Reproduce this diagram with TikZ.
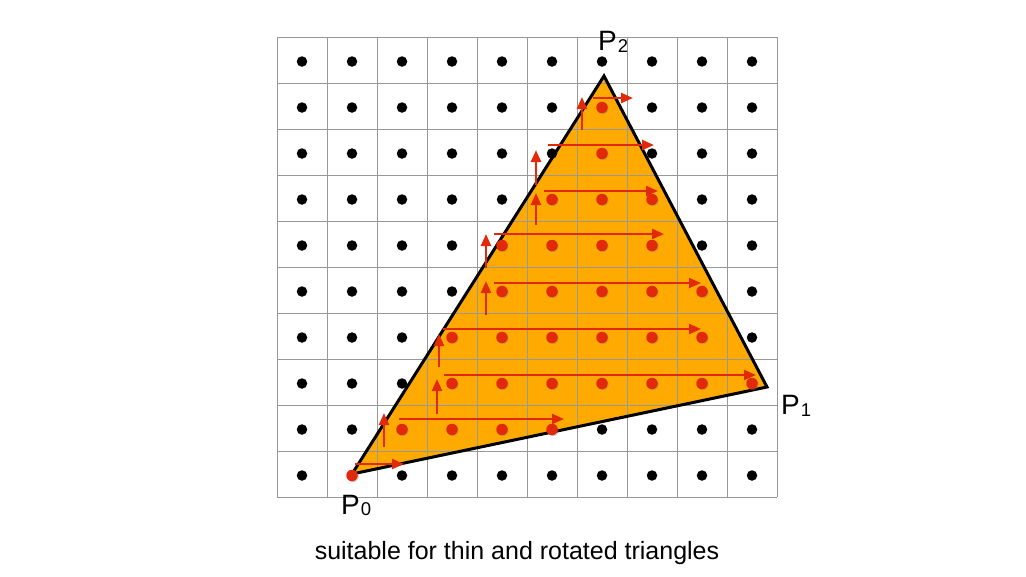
\documentclass[tikz,border=0pt]{standalone}
\usepackage{fontspec}
\setmainfont{Liberation Sans}
\usetikzlibrary{arrows.meta,shadows}
\definecolor{tri}{RGB}{255,170,0}
\definecolor{rast}{RGB}{226,42,10}
\definecolor{gridc}{RGB}{152,152,152}
\newcommand\plab[2]{P\kern1pt\raisebox{-1.5pt}{\fontsize{18.5}{18.5}\selectfont #2}}
\begin{document}
\begin{tikzpicture}[x=1pt,y=-1pt,
  gridline/.style={draw=gridc,line width=1pt},
  bdot/.style={circle,fill=black,inner sep=0pt,minimum size=10.5pt},
  rdot/.style={circle,fill=rast,inner sep=0pt,minimum size=11.5pt,
    drop shadow={shadow xshift=1pt,shadow yshift=-1pt,opacity=0.35}},
  scan/.style={draw=rast,line width=2.3pt,-{Triangle[length=12pt,width=10pt]}},
  triedge/.style={draw=black,line width=3pt,line join=miter},
  lbl/.style={font=\fontsize{28}{28}\selectfont,inner sep=0pt,anchor=base west},
  captext/.style={font=\fontsize{25}{25}\selectfont,inner sep=0pt,anchor=base}]
\useasboundingbox (0,0) rectangle (1026,576);
\coordinate (P0) at (352,474);
\coordinate (P1) at (767,387);
\coordinate (P2) at (604,76);
% triangle fill
\fill[tri] (P0) -- (P1) -- (P2) -- cycle;
% grid
\foreach \k in {0,...,10} {
  \coordinate (vt\k) at (277+50*\k,37);
  \coordinate (vb\k) at (277+50*\k,497);
  \coordinate (hl\k) at (277,37+46*\k);
  \coordinate (hr\k) at (777,37+46*\k);
  \draw[gridline] (vt\k) -- (vb\k);
  \draw[gridline] (hl\k) -- (hr\k);
}
% black sample dots (outside)
\foreach \j/\a/\b in {0/10/-1,1/6/6,2/6/6,3/5/7,4/4/7,5/4/8,6/3/8,7/3/9,8/2/5,9/1/1} {
  \foreach \i in {0,...,9} {
    \pgfmathtruncatemacro\isred{and(\i>=\a,\i<=\b)}
    \ifnum\isred=0
      \node[bdot] (d-\i-\j) at (302+50*\i,61.5+46*\j) {};
    \fi
  }
}
% triangle outline
\draw[triedge] (P0) -- (P1) -- (P2) -- cycle;
% red sample dots (inside)
\foreach \j/\a/\b in {1/6/6,2/6/6,3/5/7,4/4/7,5/4/8,6/3/8,7/3/9,8/2/5,9/1/1} {
  \foreach \i in {\a,...,\b} {
    \node[rdot] (d-\i-\j) at (302+50*\i,61.5+46*\j) {};
  }
}
% horizontal scan arrows
\foreach \n/\y/\xa/\xb in {1/464/355/404,2/419/399/564,3/375/444/756,4/329/443/701,
  5/283/494/701,6/234/494/664,7/191/544/658,8/145/548/654,9/98/593/633} {
  \coordinate (hs\n) at (\xa,\y);
  \coordinate (he\n) at (\xb,\y);
  \draw[scan] (hs\n) -- (he\n);
}
% vertical step arrows
\foreach \n/\x/\ya/\yb in {1/384/447/413,2/437/414/379,3/439/367/334,4/486/315/281,
  5/486/268/234,6/536/225/193,7/536/185/150,8/582/130/97} {
  \coordinate (vs\n) at (\x,\ya);
  \coordinate (ve\n) at (\x,\yb);
  \draw[scan] (vs\n) -- (ve\n);
}
% labels
\node[lbl] (l0) at (341,514) {\plab{P}{0}};
\node[lbl] (l1) at (781,414.5) {\plab{P}{1}};
\node[lbl] (l2) at (598,50.5) {\plab{P}{2}};
\node[captext] (caption) at (517,559.5) {suitable for thin and rotated triangles};
\end{tikzpicture}
\end{document}
